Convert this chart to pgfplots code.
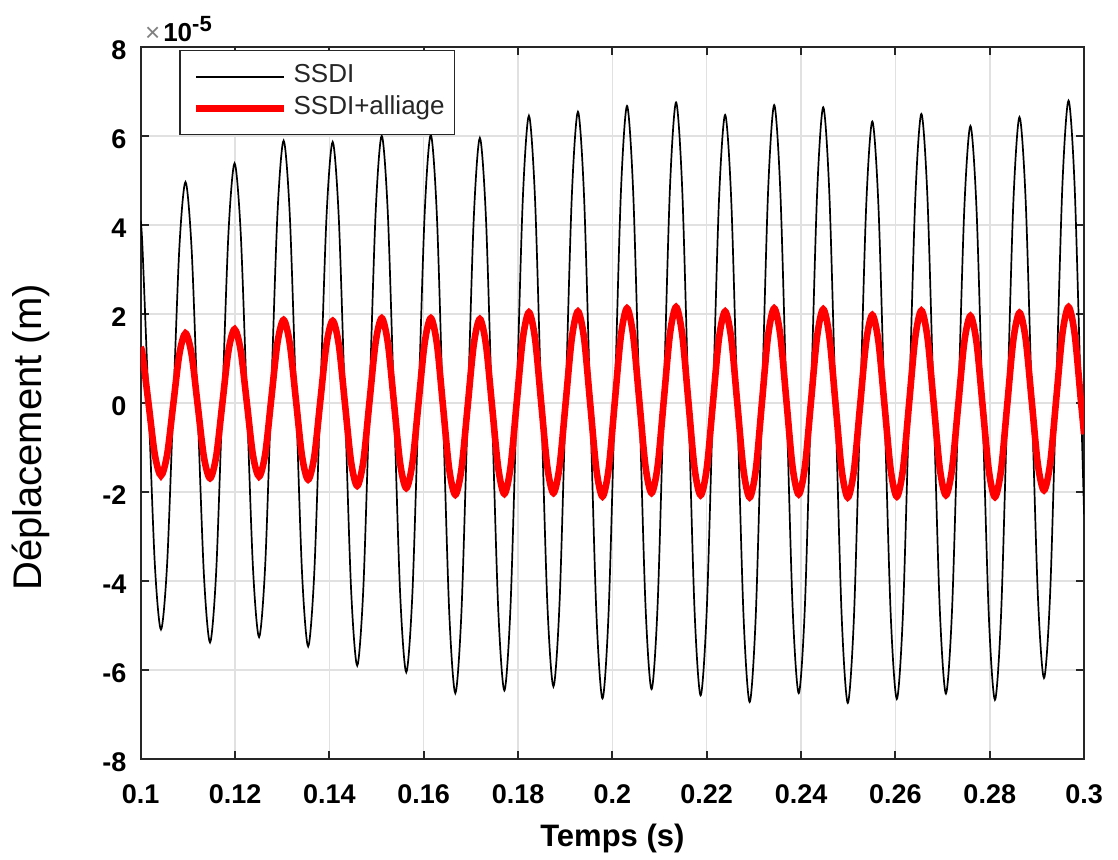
\documentclass[border=0pt]{standalone}
\usepackage{pgfplots}
\usepackage{pgfplotstable}
\pgfplotsset{compat=1.18}
\usepackage{fontspec}
\setmainfont{Liberation Sans}
\definecolor{axgray}{RGB}{38,38,38}
\definecolor{gridgray}{RGB}{225,225,225}
\definecolor{mred}{RGB}{255,0,0}

\pgfplotstableread{
t s r
0.1000 4.10 1.25
0.1004 3.44 1.08
0.1017 -0.10 -0.04
0.1030 -3.63 -1.16
0.1043 -5.09 -1.63
0.1056 -3.62 -1.16
0.1069 -0.06 -0.03
0.1082 3.50 1.10
0.1095 4.97 1.57
0.1108 3.45 1.09
0.1121 -0.21 -0.06
0.1134 -3.86 -1.21
0.1147 -5.38 -1.69
0.1160 -3.80 -1.20
0.1173 0.01 -0.02
0.1186 3.81 1.17
0.1199 5.39 1.66
0.1212 3.83 1.18
0.1225 0.07 0.01
0.1238 -3.70 -1.17
0.1251 -5.26 -1.65
0.1264 -3.63 -1.14
0.1277 0.32 0.11
0.1290 4.27 1.36
0.1303 5.90 1.87
0.1316 4.24 1.34
0.1329 0.22 0.08
0.1342 -3.81 -1.19
0.1355 -5.47 -1.72
0.1368 -3.81 -1.20
0.1381 0.20 0.07
0.1394 4.21 1.33
0.1407 5.87 1.85
0.1420 4.15 1.31
0.1433 -0.02 -0.01
0.1446 -4.18 -1.32
0.1459 -5.90 -1.86
0.1472 -4.16 -1.31
0.1485 0.06 0.03
0.1498 4.27 1.36
0.1511 6.01 1.91
0.1524 4.24 1.35
0.1537 -0.02 0.00
0.1550 -4.28 -1.35
0.1563 -6.05 -1.91
0.1576 -4.28 -1.35
0.1589 -0.01 0.00
0.1602 4.26 1.35
0.1615 6.03 1.91
0.1628 4.19 1.33
0.1641 -0.25 -0.08
0.1654 -4.68 -1.48
0.1667 -6.52 -2.06
0.1680 -4.69 -1.48
0.1693 -0.28 -0.09
0.1706 4.13 1.31
0.1719 5.96 1.89
0.1732 4.14 1.31
0.1745 -0.25 -0.08
0.1758 -4.64 -1.46
0.1771 -6.46 -2.04
0.1784 -4.57 -1.44
0.1797 0.00 0.00
0.1810 4.57 1.44
0.1823 6.46 2.04
0.1836 4.58 1.45
0.1849 0.05 0.01
0.1862 -4.49 -1.43
0.1875 -6.37 -2.02
0.1888 -4.48 -1.42
0.1901 0.09 0.02
0.1914 4.66 1.46
0.1927 6.55 2.06
0.1940 4.62 1.45
0.1953 -0.05 -0.02
0.1966 -4.71 -1.49
0.1979 -6.64 -2.10
0.1992 -4.69 -1.48
0.2005 0.02 0.02
0.2018 4.73 1.51
0.2031 6.68 2.13
0.2044 4.76 1.52
0.2057 0.13 0.06
0.2070 -4.51 -1.41
0.2083 -6.43 -2.02
0.2096 -4.50 -1.41
0.2109 0.17 0.07
0.2122 4.83 1.55
0.2135 6.76 2.16
0.2148 4.81 1.54
0.2161 0.10 0.05
0.2174 -4.62 -1.45
0.2187 -6.57 -2.07
0.2200 -4.66 -1.47
0.2213 -0.05 -0.01
0.2226 4.57 1.46
0.2239 6.48 2.06
0.2252 4.55 1.45
0.2265 -0.12 -0.03
0.2278 -4.79 -1.51
0.2291 -6.72 -2.12
0.2304 -4.76 -1.50
0.2317 -0.01 0.01
0.2330 4.74 1.51
0.2343 6.70 2.13
0.2356 4.76 1.52
0.2369 0.09 0.04
0.2382 -4.58 -1.44
0.2395 -6.52 -2.05
0.2408 -4.59 -1.44
0.2421 0.07 0.03
0.2434 4.72 1.50
0.2447 6.65 2.11
0.2460 4.69 1.49
0.2473 -0.05 -0.01
0.2486 -4.78 -1.50
0.2499 -6.74 -2.12
0.2512 -4.83 -1.52
0.2525 -0.21 -0.07
0.2538 4.42 1.38
0.2551 6.33 1.98
0.2564 4.43 1.38
0.2577 -0.16 -0.06
0.2590 -4.75 -1.50
0.2603 -6.65 -2.10
0.2616 -4.72 -1.49
0.2629 -0.08 -0.01
0.2642 4.57 1.47
0.2655 6.50 2.08
0.2668 4.59 1.47
0.2681 -0.02 0.01
0.2694 -4.62 -1.46
0.2707 -6.53 -2.07
0.2720 -4.66 -1.48
0.2733 -0.15 -0.06
0.2746 4.36 1.37
0.2759 6.23 1.96
0.2772 4.34 1.36
0.2785 -0.22 -0.08
0.2798 -4.78 -1.51
0.2811 -6.67 -2.11
0.2824 -4.75 -1.50
0.2837 -0.12 -0.04
0.2850 4.51 1.42
0.2863 6.43 2.03
0.2876 4.58 1.45
0.2889 0.13 0.04
0.2902 -4.33 -1.38
0.2915 -6.18 -1.96
0.2928 -4.28 -1.36
0.2941 0.31 0.10
0.2954 4.90 1.56
0.2967 6.80 2.16
0.2980 4.85 1.55
0.2993 0.15 0.08
0.3000 -2.50 -0.70
}\data

\begin{document}
\begin{tikzpicture}
\useasboundingbox (-70.35bp,-50.5bp) rectangle (488.65bp,379.5bp);
\begin{axis}[
  name=ax,
  at={(0,0)}, anchor=south west,
  scale only axis,
  width=471.7bp, height=355.9bp,
  xmin=0.1, xmax=0.3, ymin=-8, ymax=8,
  xtick={0.1,0.12,0.14,0.16,0.18,0.2,0.22,0.24,0.26,0.28,0.3},
  xticklabels={0.1,0.12,0.14,0.16,0.18,0.2,0.22,0.24,0.26,0.28,0.3},
  ytick={-8,-6,-4,-2,0,2,4,6,8},
  yticklabels={-8,-6,-4,-2,0,2,4,6,8},
  grid=major,
  major grid style={gridgray, line width=0.75bp},
  axis line style={axgray, line width=1bp},
  tick style={axgray, line width=1bp},
  tick align=inside,
  major tick length=4bp,
  every tick label/.append style={font=\fontsize{13.5bp}{14bp}\selectfont\bfseries, text=black},
  xticklabel style={anchor=base, inner sep=0pt, yshift=-22bp},
  yticklabel style={anchor=east, inner sep=0pt, xshift=-7bp, yshift=-1.5bp},
  xlabel={Temps (s)},
  ylabel={Déplacement (m)},
  xlabel style={at={(axis description cs:0.5,-0.1232)}, anchor=base, inner sep=0pt, font=\fontsize{15.5bp}{16bp}\selectfont\bfseries},
  ylabel style={at={(axis description cs:-0.105,0.4517)}, anchor=base, inner sep=0pt, font=\fontsize{20bp}{21bp}\selectfont},
  legend cell align=left,
  legend image code/.code={\path (0bp,0bp) (48.5bp,0bp); \draw[#1] (1.5bp,0bp) -- (45.5bp,0bp);},
  legend style={
    at={(axis description cs:0.0409,0.9962)}, anchor=north west,
    draw=axgray, line width=0.75bp, fill=white,
    inner xsep=5bp, inner ysep=7bp,
    row sep=3.8bp,
    font=\fontsize{13bp}{13.5bp}\selectfont,
    nodes={inner sep=0pt, text height=9bp, text depth=3bp, text=axgray},
  },
]
\addplot[black, line width=0.85bp, smooth] table[x=t, y=s] {\data};
\addlegendentry{SSDI}
\addplot[mred, line width=3.3bp, smooth] table[x=t, y=r] {\data};
\addlegendentry{SSDI+alliage}
\end{axis}
\node[anchor=base west, inner sep=0pt, font=\fontsize{13bp}{13bp}\selectfont] at ([xshift=2bp,yshift=2.8bp]ax.north west) {{\color{gray}×}\hspace{1.5bp}\textbf{10}\raisebox{5bp}{\fontsize{11bp}{11bp}\selectfont\bfseries -5}};
\end{tikzpicture}
\end{document}
